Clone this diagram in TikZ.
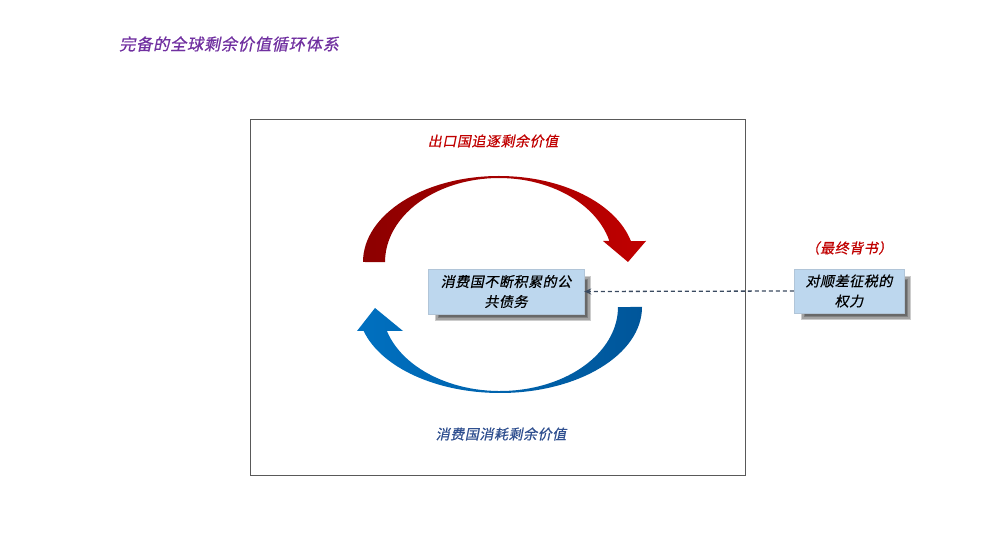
\documentclass[tikz,border=0pt]{standalone}
\usepackage{fontspec}
\newfontfamily\cjk[FakeSlant=0.2,FakeBold=0.6,LetterSpace=4]{Noto Sans CJK SC}
\usetikzlibrary{arrows.meta,backgrounds}
\definecolor{titlepurple}{HTML}{7030A0}
\definecolor{labred}{HTML}{C00000}
\definecolor{labblue}{HTML}{2F4F8F}
\definecolor{boxblue}{HTML}{BDD7EE}
\definecolor{dashc}{HTML}{3A4A60}
\tikzset{
  x=1pt,y=1pt,
  txt/.style={font=\cjk\fontsize{14}{20}\selectfont, inner sep=0pt},
  infobox/.style={txt, fill=boxblue, draw=boxblue!80!gray, line width=0.4pt, align=center},
  softshadow/.style={fill=black, opacity=0.2},
}
\newcommand{\blurshadow}[1]{%
  \begin{pgfonlayer}{background}
  \foreach \d in {0,1.5,3,4.5}{
    \fill[softshadow] ([xshift=7pt+\d pt, yshift=-7pt+\d pt]#1.south west) rectangle ([xshift=7pt-\d pt, yshift=-7pt-\d pt]#1.north east);
  }
  \end{pgfonlayer}}
\begin{document}
\begin{tikzpicture}
\useasboundingbox (0,0) rectangle (1000,554);
% title
\node[txt, font=\cjk\fontsize{16.3}{20}\selectfont, text=titlepurple, anchor=west] (title) at (119,510) {完备的全球剩余价值循环体系};
% frame
\node[draw=gray!70!black, line width=0.6pt, minimum width=495pt, minimum height=356pt, inner sep=0pt] (frame) at (497.5,257) {};
% red arrow
\shade[left color=red!55!black, right color=labred]
  (363,292) arc[start angle=180, end angle=14.1, x radius=136, y radius=86]
  -- (646,313) -- (628,292) -- (603,313) -- (609.4,313)
  arc[start angle=14.5, end angle=180, x radius=114, y radius=84] -- cycle;
% blue arrow
\shade[left color={rgb,255:red,0;green,112;blue,192}, right color={rgb,255:red,0;green,86;blue,154}]
  (642,247) arc[start angle=0, end angle=-163.8, x radius=142, y radius=86]
  -- (357,223) -- (375,246) -- (403,223) -- (386.9,223)
  arc[start angle=-163.4, end angle=0, x radius=118, y radius=84] -- cycle;
% labels
\node[txt, text=labred] (lred) at (493,413) {出口国追逐剩余价值};
\node[txt, text=labblue] (lblue) at (501,120) {消费国消耗剩余价值};
% boxes
\node[infobox, minimum width=156pt, minimum height=45pt] (debt) at (506,262.5) {消费国不断积累的公\\共债务};
\node[infobox, minimum width=110pt, minimum height=44pt] (power) at (849,263) {对顺差征税的\\权力};
\blurshadow{debt}
\blurshadow{power}
\node[txt, text=labred] (endorse) at (849,306) {（最终背书）};
% dashed connector
\draw[dashc, line width=1.3pt, dash pattern=on 4pt off 3pt, -{Stealth[length=7pt,width=6pt]}] (power.west) -- (debt.east);
\end{tikzpicture}
\end{document}
